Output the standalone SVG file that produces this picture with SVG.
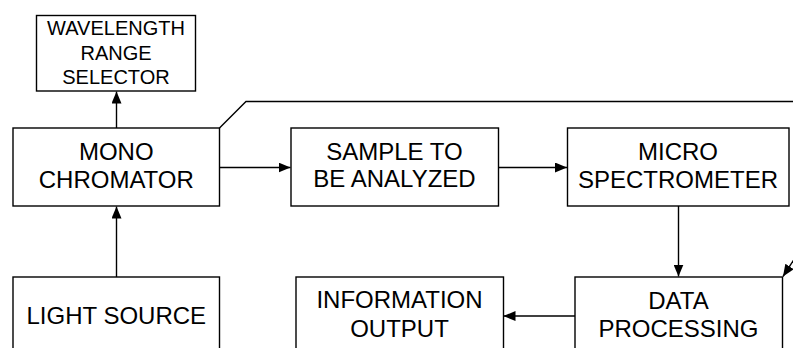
<svg xmlns="http://www.w3.org/2000/svg" width="793" height="348" viewBox="0 0 793 348">
<defs>
<marker id="ah" viewBox="0 0 12 10" refX="12" refY="5" markerWidth="12" markerHeight="10" markerUnits="userSpaceOnUse" orient="auto">
<path d="M0,0 L12,5 L0,10 Z" fill="#000"/>
</marker>
<style>
.box{fill:#fff;stroke:#000;stroke-width:1.4}
.t{font-family:"Liberation Sans",Arial,sans-serif;font-size:24px;fill:#000;text-anchor:middle}
.ts{font-family:"Liberation Sans",Arial,sans-serif;font-size:20px;fill:#000;text-anchor:middle}
.c{fill:none;stroke:#000;stroke-width:1.4}
.a{marker-end:url(#ah)}
</style>
</defs>
<rect width="793" height="348" fill="#fff"/>
<g id="connectors">
<path class="c a" d="M116.5,128 L116.5,91.5"/>
<path class="c a" d="M116.5,277 L116.5,206.5"/>
<path class="c a" d="M219.5,167.5 L290.5,167.5"/>
<path class="c a" d="M498.5,167.5 L567,167.5"/>
<path class="c a" d="M678.5,206 L678.5,276.5"/>
<path class="c a" d="M575,316 L503.5,316"/>
<path class="c" d="M219.5,128 L246,101.5 L793,101.5"/>
<path class="c a" d="M795,258 L783,276.5"/>
</g>
<g id="wavelength">
<rect class="box" x="36.5" y="15.5" width="159" height="75.5"/>
<text class="ts" x="116" y="35">WAVELENGTH</text>
<text class="ts" x="116" y="59.5">RANGE</text>
<text class="ts" x="116" y="84">SELECTOR</text>
</g>
<g id="mono">
<rect class="box" x="13" y="128" width="206.5" height="78"/>
<text class="t" x="116.3" y="160">MONO</text>
<text class="t" x="116.3" y="188">CHROMATOR</text>
</g>
<g id="sample">
<rect class="box" x="291" y="128" width="207.5" height="78"/>
<text class="t" x="394.5" y="159.5">SAMPLE TO</text>
<text class="t" x="394.5" y="187">BE ANALYZED</text>
</g>
<g id="micro">
<rect class="box" x="567.5" y="128" width="221.5" height="78"/>
<text class="t" x="678" y="160">MICRO</text>
<text class="t" x="678" y="188">SPECTROMETER</text>
</g>
<g id="light">
<rect class="box" x="13" y="277" width="206.5" height="80"/>
<text class="t" x="116.3" y="323.5">LIGHT SOURCE</text>
</g>
<g id="info">
<rect class="box" x="296" y="277" width="207.5" height="80"/>
<text class="t" x="399.5" y="308">INFORMATION</text>
<text class="t" x="399.5" y="337">OUTPUT</text>
</g>
<g id="data">
<rect class="box" x="575" y="277" width="207.5" height="80"/>
<text class="t" x="678.5" y="308.5">DATA</text>
<text class="t" x="678.5" y="337">PROCESSING</text>
</g>
</svg>
